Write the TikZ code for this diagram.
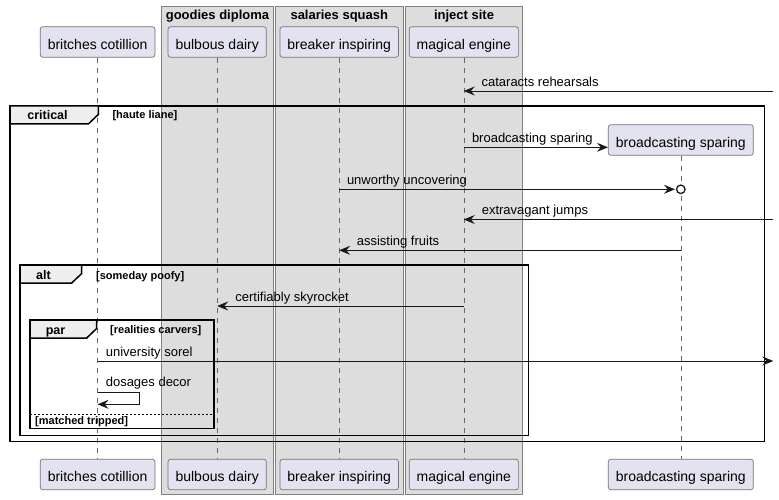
\documentclass[tikz,border=0pt]{standalone}
\usepackage{fontspec}
\setmainfont{Liberation Sans}
\usepackage{xcolor}
\definecolor{partfill}{RGB}{226,226,240}
\definecolor{groupfill}{RGB}{221,221,221}
\definecolor{tabfill}{RGB}{238,238,238}
\definecolor{ink}{RGB}{24,24,24}
\usepackage{tikz}
\usetikzlibrary{arrows.meta}
\usetikzlibrary{calc}

\tikzset{
  partbox/.style={draw=black!55,line width=0.7pt,fill=partfill,rounded corners=2.5pt,
    minimum height=30.5pt,inner xsep=7.5pt,text height=14.5pt,text depth=0pt,
    font=\fontsize{14}{16}\selectfont},
  grpbox/.style={draw=black!50,line width=0.8pt,fill=groupfill},
  grptitle/.style={anchor=base,inner sep=0,font=\fontsize{13}{15}\selectfont\bfseries},
  life/.style={draw=black!60,line width=0.6pt,dash pattern=on 5pt off 5pt},
  msg/.style={draw=ink,line width=0.9pt,-{Stealth[length=11pt,width=9pt,inset=4pt]}},
  msgtxt/.style={anchor=base west,inner sep=0,font=\fontsize{13}{15}\selectfont},
  fragbox/.style={draw=black,line width=1.5pt},
  fragtab/.style={draw=black,line width=1.5pt,fill=tabfill},
  tabtxt/.style={anchor=base,inner sep=0,font=\fontsize{12.5}{14}\selectfont\bfseries},
  condtxt/.style={anchor=base west,inner sep=0,font=\fontsize{11}{13}\selectfont\bfseries},
  sepline/.style={draw=black,line width=0.8pt,dash pattern=on 2pt off 2pt},
}

\begin{document}
\begin{tikzpicture}[x=1pt,y=-1pt]
\fill[white] (0,0) rectangle (779,500);
\useasboundingbox (0,0) rectangle (779,500);

%boxes
\draw[grpbox] (161.7,6) rectangle (273.3,494);
\draw[grpbox] (275.3,6) rectangle (403.3,494);
\draw[grpbox] (405.3,6) rectangle (522.7,494);
\node (g1) at (217.5,19.5) [grptitle] {goodies diploma};
\node (g2) at (339.3,19.5) [grptitle] {salaries squash};
\node (g3) at (464,19.5) [grptitle] {inject site};

%participants, top and bottom, with lifelines
\foreach \n/\x/\txt in {bc/97.6/britches cotillion,bd/217.2/bulbous dairy,bi/339.2/breaker inspiring,me/463.8/magical engine}{
  \node (\n) at (\x,42) [partbox] {\txt};
  \node (\n2) at (\x,474.5) [partbox] {\txt};
  \draw[life] (\n.south) -- (\n2.north);
}
\node (bs) at (680.8,140) [partbox] {broadcasting sparing};
\node (bs2) at (680.8,474.5) [partbox] {broadcasting sparing};
\draw[life] (bs.south) -- (bs2.north);

%fragments
\foreach \xa/\ya/\xb/\yb/\xt in {10/106/764.7/441.3/98.3,20/265/528.3/435.3/81.7,30/320/214/428.3/96.7}{
  \draw[fragbox] (\xa,\ya) rectangle (\xb,\yb);
  \draw[fragtab] (\xa,\ya) -- (\xt,\ya) -- (\xt,\ya+8.5) -- (\xt-10,\ya+18) -- (\xa,\ya+18) -- cycle;
}
\node (crit) at (47.5,119.3) [tabtxt] {critical};
\node (critc) at (112.3,118.7) [condtxt] {[haute liane]};
\node (alt) at (43.5,279.3) [tabtxt] {alt};
\node (altc) at (96,279.3) [condtxt] {[someday poofy]};
\node (par) at (55.5,334.5) [tabtxt] {par};
\node (parc) at (110,333.3) [condtxt] {[realities carvers]};
\draw[sepline] (30,414.3) -- (214,414.3);
\node (parc2) at (35,424.5) [condtxt] {[matched tripped]};

%message rows
\foreach \n/\y in {r1/91,r2/147.3,r3/189.3,r4/219.5,r5/250.3,r6/306,r7/361,r8/392.3,r9/404.3}
  \coordinate (\n) at (0,\y);
\coordinate (edge) at (773.3,0);

%messages
\draw[msg] (edge |- r1) -- (me |- r1);
\node (m1) at ($(me |- r1)+(17.6,-4.2)$) [msgtxt] {cataracts rehearsals};

\draw[msg] (me |- r2) -- (bs.west |- r2);
\node (m2) at ($(me |- r2)+(8,-4.8)$) [msgtxt] {broadcasting sparing};

\node (oc) at (bs |- r3) [circle,draw=ink,line width=1.3pt,fill=white,minimum size=8.5pt,inner sep=0] {};
\draw[msg] (bi |- r3) -- ([xshift=-1pt]oc.west);
\node (m3) at ($(bi |- r3)+(7.6,-4.5)$) [msgtxt] {unworthy uncovering};

\draw[msg] (edge |- r4) -- (me |- r4);
\node (m4) at ($(me |- r4)+(17.8,-4.8)$) [msgtxt] {extravagant jumps};

\draw[msg] (bs |- r5) -- (bi |- r5);
\node (m5) at ($(bi |- r5)+(17.4,-4.8)$) [msgtxt] {assisting fruits};

\draw[msg] (me |- r6) -- (bd |- r6);
\node (m6) at ($(bd |- r6)+(18,-5)$) [msgtxt] {certifiably skyrocket};

\draw[msg] (bc |- r7) -- (edge |- r7);
\node (m7) at ($(bc |- r7)+(8,-4.5)$) [msgtxt] {university sorel};

\coordinate (loop) at ($(bc |- r9)+(41.7,0)$);
\draw[msg] (bc |- r8) -| (loop) -- (bc |- r9);
\node (m8) at ($(bc |- r8)+(8,-5.4)$) [msgtxt] {dosages decor};

\end{tikzpicture}
\end{document}
